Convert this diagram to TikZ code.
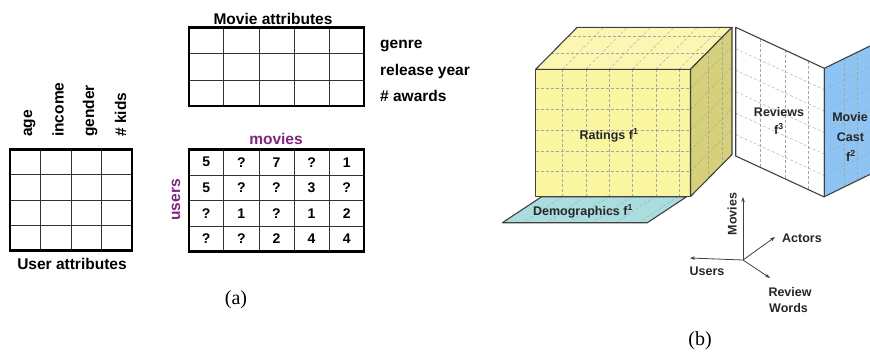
\documentclass[tikz,border=0pt]{standalone}
\usepackage{fontspec}
\setsansfont{Liberation Sans}
\newfontfamily\capfont{Liberation Serif}
\usetikzlibrary{arrows.meta}
\definecolor{moviepurple}{RGB}{128,38,128}
\definecolor{cubefront}{RGB}{250,245,160}
\definecolor{cubetop}{RGB}{251,247,178}
\definecolor{cubeside}{RGB}{214,208,122}
\definecolor{demoteal}{RGB}{170,221,222}
\definecolor{castblue}{RGB}{142,196,244}

\begin{document}
\begin{tikzpicture}[x=1pt, y=-1pt, >={Stealth[length=5pt, width=3.5pt]},
    lbl/.style = {font=\sffamily\bfseries\fontsize{15.5}{18}\selectfont, inner sep=0pt},
    num/.style = {font=\sffamily\bfseries\fontsize{14}{16}\selectfont, inner sep=0pt},
    tag/.style = {font=\sffamily\bfseries\fontsize{12.5}{14}\selectfont, text=black!85, inner sep=0pt},
    captxt/.style = {font=\capfont\fontsize{20}{22}\selectfont, inner sep=0pt},
    cellline/.style = {draw=black!80, line width=0.8pt},
    frame/.style = {draw=black, line width=2.4pt},
    face/.style = {draw=black!75, line width=1.1pt, line join=round},
    mesh/.style = {draw=black!35, densely dashed, line width=0.4pt},
    axis/.style = {->, draw=black!75, line width=0.8pt}]

\useasboundingbox (0,0) rectangle (870,356);

% (a) user attributes
\begin{scope}[shift={(10,149.5)}, x=30.5pt, y=-25.25pt]
    \foreach \k in {1,2,3} {
        \draw[cellline] (\k,0) -- (\k,4);
        \draw[cellline] (0,\k) -- (4,\k);
    }
    \draw[frame] (0,0) rectangle (4,4);
\end{scope}
\node[lbl, rotate=90, anchor=base west] (age) at (32,137) {age};
\node[lbl, rotate=90, anchor=base west] (income) at (63.5,137) {income};
\node[lbl, rotate=90, anchor=base west] (gender) at (94,137) {gender};
\node[lbl, rotate=90, anchor=base west] (kids) at (126,137) {\# kids};
\node[lbl, anchor=base] (userattr) at (72,269.3) {User attributes};

% movie attributes
\begin{scope}[shift={(188.7,27.5)}, x=35.1pt, y=-26.2pt]
    \foreach \k in {1,...,4} \draw[cellline] (\k,0) -- (\k,3);
    \foreach \k in {1,2} \draw[cellline] (0,\k) -- (5,\k);
    \draw[frame] (0,0) rectangle (5,3);
\end{scope}
\node[lbl, anchor=base] (movattr) at (273,24) {Movie attributes};
\node[lbl, anchor=base west] (genre) at (380,48.6) {genre};
\node[lbl, anchor=base west] (year) at (380,75) {release year};
\node[lbl, anchor=base west] (awards) at (380,101) {\# awards};

% ratings
\begin{scope}[shift={(188.7,149.5)}, x=35.1pt, y=-25.5pt]
    \foreach \k in {1,...,4} \draw[cellline] (\k,0) -- (\k,4);
    \foreach \k in {1,2,3} \draw[cellline] (0,\k) -- (5,\k);
    \draw[frame] (0,0) rectangle (5,4);
    \foreach \row [count=\r] in {{5,?,7,?,1},{5,?,?,3,?},{?,1,?,1,2},{?,?,2,4,4}}
        \foreach \v [count=\c] in \row
            \node[num] (r\r-\c) at ({\c-0.5},{\r-0.5}) {\v};
\end{scope}
\node[lbl, text=moviepurple, anchor=base] (movies) at (276,144) {movies};
\node[lbl, text=moviepurple, rotate=90, anchor=base] (users) at (180,200) {users};

\node[captxt, anchor=base] (capa) at (236,304) {(a)};

% (b) demographics slab
\begin{scope}[shift={(541.7,196.7)}, x={(145pt,0pt)}, y={(-39.4pt,-26pt)}]
    \fill[demoteal] (0,0) -- (1,0) -- (1,1) -- (0,1) -- cycle;
    \foreach \u in {0.14,0.3,0.46,0.62,0.78,0.94} \draw[mesh] (\u,0) -- (\u,1);
    \draw[face] (0,0) -- (1,0) -- (1,1) -- (0,1) -- cycle;
\end{scope}
\node[tag, anchor=base] (demo) at (583,215) {Demographics f\textsuperscript{1}};

% cube: front face
\begin{scope}[shift={(535.7,69.3)}, x={(154.8pt,0pt)}, y={(0pt,-127.2pt)}]
    \fill[cubefront] (0,0) rectangle (1,1);
    \foreach \u in {0.172,0.323,0.474,0.625,0.776,0.927} \draw[mesh] (\u,0) -- (\u,1);
    \foreach \v in {0.151,0.314,0.477,0.64,0.802} \draw[mesh] (0,\v) -- (1,\v);
    \draw[face] (0,0) rectangle (1,1);
\end{scope}
% cube: top face
\begin{scope}[shift={(535.7,69.3)}, x={(154.8pt,0pt)}, y={(41.5pt,42pt)}]
    \fill[cubetop] (0,0) -- (1,0) -- (1,1) -- (0,1) -- cycle;
    \foreach \u in {0.172,0.323,0.474,0.625,0.776,0.927} \draw[mesh] (\u,0) -- (\u,1);
    \foreach \v in {0.38,0.78} \draw[mesh] (0,\v) -- (1,\v);
    \draw[face] (0,0) -- (1,0) -- (1,1) -- (0,1) -- cycle;
\end{scope}
% cube: side face
\begin{scope}[shift={(690.5,69.3)}, x={(41.5pt,42pt)}, y={(0pt,-127.2pt)}]
    \fill[cubeside] (0,0) -- (1,0) -- (1,1) -- (0,1) -- cycle;
    \foreach \u in {0.43,0.76} \draw[mesh] (\u,0) -- (\u,1);
    \foreach \v in {0.151,0.314,0.477,0.64,0.802} \draw[mesh] (0,\v) -- (1,\v);
    \draw[face] (0,0) -- (1,0) -- (1,1) -- (0,1) -- cycle;
\end{scope}
\node[tag, anchor=base] (ratings) at (609,139) {Ratings f\textsuperscript{1}};

% reviews panel
\begin{scope}[shift={(735.7,27.3)}, x={(88.6pt,-41pt)}, y={(0pt,-128.7pt)}]
    \fill[white] (0,0) -- (1,0) -- (1,1) -- (0,1) -- cycle;
    \foreach \u in {0.274,0.556,0.819} \draw[mesh] (\u,0) -- (\u,1);
    \foreach \v in {1,...,5} \draw[mesh] (0,\v/6) -- (1,\v/6);
    \draw[face] (0,0) -- (1,0) -- (1,1) -- (0,1) -- cycle;
\end{scope}
\node[tag, anchor=base] (reviews) at (779,116.5) {Reviews};
\node[tag, anchor=base] (fthree) at (779,134) {f\textsuperscript{3}};

% movie cast panel
\begin{scope}[shift={(824.3,68.3)}, x={(45.7pt,22.3pt)}, y={(0pt,-128.4pt)}]
    \fill[castblue] (0,0) -- (1,0) -- (1,1) -- (0,1) -- cycle;
    \foreach \u in {0.44,0.73} \draw[mesh] (\u,0) -- (\u,1);
    \foreach \v in {1,...,5} \draw[mesh] (0,\v/6) -- (1,\v/6);
    \draw[face] (1,0) -- (0,0) -- (0,1) -- (1,1);
\end{scope}
\node[tag, anchor=base] (movie) at (850,121.5) {Movie};
\node[tag, anchor=base] (cast) at (850.5,141) {Cast};
\node[tag, anchor=base] (ftwo) at (851,161) {f\textsuperscript{2}};

% axes
\coordinate (orig) at (743,260);
\coordinate (mvend) at (743,197);
\coordinate (acend) at (775,237);
\coordinate (usend) at (690,258);
\coordinate (rwend) at (770,278);
\draw[axis] (orig) -- (mvend);
\draw[axis] (orig) -- (acend);
\draw[axis] (orig) -- (usend);
\draw[axis] (orig) -- (rwend);
\node[tag, rotate=90, anchor=base] (movax) at (736.5,214) {Movies};
\node[tag, anchor=base] (actax) at (802,242.7) {Actors};
\node[tag, anchor=base] (usax) at (707,275.7) {Users};
\node[tag, anchor=base west] (review) at (768.3,296.5) {Review};
\node[tag, anchor=base west] (words) at (769,312.7) {Words};

\node[captxt, anchor=base] (capb) at (700,345) {(b)};
\end{tikzpicture}
\end{document}
